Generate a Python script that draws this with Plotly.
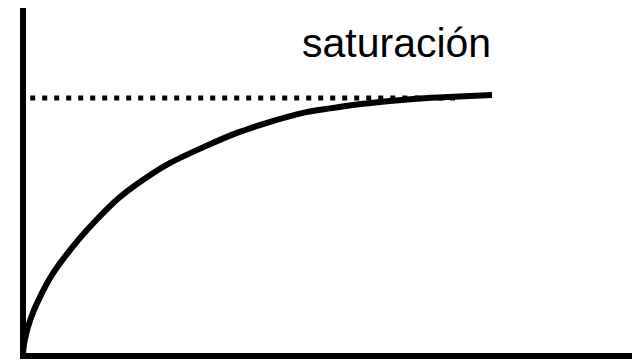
import plotly.graph_objects as go

# Curve values (arbitrary units, 0..100 on both axes)
curve_x = [-0.5, -0.2, 0.7, 2.3, 4.5, 7.3, 10.1, 15.5, 21.0, 23.8, 29.2, 34.8,
           40.3, 45.7, 50.2, 54.0, 59.6, 65.0, 70.5, 76.9]
curve_y = [0.0, 3.8, 9.6, 16.2, 23.2, 29.9, 35.7, 45.2, 52.2, 55.1, 59.6, 63.8,
           67.0, 69.6, 70.9, 71.9, 73.0, 73.8, 74.3, 74.8]

# Saturation level (dotted line)
sat_x = [0.7, 70.8]
sat_y = [73.9, 73.9]

label_text = "saturación"
label_x = 61.2
label_y = 90.0

fig = go.Figure()
fig.add_trace(go.Scatter(
    x=sat_x, y=sat_y, mode="lines",
    line=dict(color="black", width=5, dash="5px,7px"),
    cliponaxis=False, hoverinfo="skip", showlegend=False))
fig.add_trace(go.Scatter(
    x=curve_x, y=curve_y, mode="lines",
    line=dict(color="black", width=6, shape="spline", smoothing=0.8),
    cliponaxis=False, hoverinfo="skip", showlegend=False))

fig.add_annotation(x=label_x, y=label_y, text=label_text, showarrow=False,
                   xanchor="center", yanchor="middle",
                   font=dict(family="Liberation Sans, Arial, sans-serif", size=41, color="black"))

fig.update_layout(
    width=635, height=361,
    margin=dict(l=26, r=3, t=8, b=8),
    paper_bgcolor="white", plot_bgcolor="white",
    xaxis=dict(range=[0, 100], showline=True, linecolor="black", linewidth=6,
               showgrid=False, zeroline=False, showticklabels=False, ticks=""),
    yaxis=dict(range=[0, 100], showline=True, linecolor="black", linewidth=6,
               showgrid=False, zeroline=False, showticklabels=False, ticks=""),
)

fig.write_html("out.html", config={"displayModeBar": False},
               post_script="document.body.style.margin='0';document.body.style.overflow='hidden';")
